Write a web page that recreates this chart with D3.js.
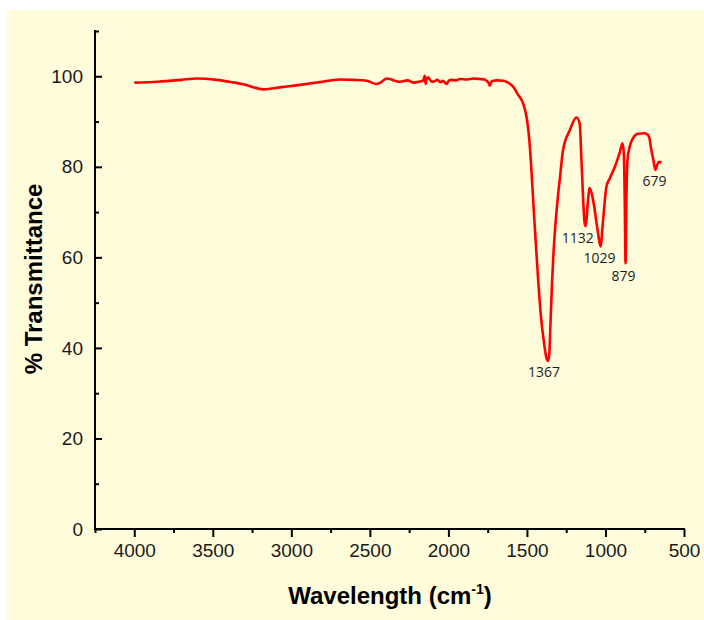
<!DOCTYPE html>
<html>
<head>
<meta charset="utf-8">
<script src="https://cdn.jsdelivr.net/npm/d3@7"></script>
<style>
  html, body { margin: 0; padding: 0; background: #ffffff; }
  svg { display: block; }
</style>
</head>
<body>
<svg id="chart" width="704" height="620"></svg>
<script>
// ---- data ----
const wavenumber = [
  4000, 3850, 3700, 3603, 3476, 3380, 3300, 3179, 3060, 2945, 2820, 2691, 2600, 2520, 2457, 2436,
  2394, 2373, 2340, 2309, 2260, 2224, 2175, 2161, 2150, 2145, 2139, 2129, 2110, 2097, 2070, 2050, 2034, 2022,
  2012, 1995, 1980, 1950, 1927, 1880, 1840, 1800, 1770, 1757, 1745, 1736, 1726, 1715, 1690, 1651, 1620, 1588,
  1556, 1524, 1500, 1485, 1470, 1455, 1435, 1411, 1390, 1376, 1365, 1357, 1350, 1340, 1330, 1318, 1304, 1290,
  1270, 1227, 1185, 1164, 1153, 1132, 1125, 1115, 1100, 1079, 1047, 1032, 1015, 994, 972, 940,
  908, 892, 883, 877, 872, 867, 860, 846, 825, 793, 750, 723, 708, 697, 682, 671, 659, 644
];
const transmittance = [
  98.6, 98.8, 99.2, 99.5, 99.2, 98.7, 98.2, 97.1, 97.6, 98.1, 98.7, 99.3, 99.2, 99.0, 98.3, 98.5,
  99.5, 99.4, 99.0, 98.8, 99.1, 98.6, 98.9, 99.0, 100.1, 98.3, 99.3, 99.8, 98.9, 98.8, 99.2, 98.7, 99.0, 98.6,
  98.3, 99.1, 99.2, 99.1, 99.4, 99.3, 99.5, 99.4, 99.3, 99.0, 98.6, 97.9, 98.8, 99.0, 99.1, 99.0, 98.6, 97.7,
  95.9, 94.0, 90.5, 86.0, 78.5, 69.5, 58.5, 47.0, 40.8, 37.8, 37.1, 39.0, 45.5, 54.5, 61.5, 67.5, 73.0, 77.5,
  83.7, 88.1, 90.9, 89.6, 81.5, 67.5, 66.9, 71.0, 75.3, 72.7, 65.3, 62.4, 68.3, 75.6, 77.5, 80.0,
  83.3, 85.2, 83.0, 71.9, 58.7, 72.0, 81.5, 84.4, 86.3, 87.3, 87.4, 86.7, 83.7, 81.9, 79.3, 80.4, 81.1, 80.9
];
const xTicks = [4000, 3500, 3000, 2500, 2000, 1500, 1000, 500];
const yTicks = [0, 20, 40, 60, 80, 100];
const peakLabels = ["1367", "1132", "1029", "879", "679"];
const peakWavenumber = [1365, 1125, 1032, 872, 682];
const peakValue = [37.1, 66.9, 62.4, 58.7, 79.3];

// ---- layout ----
const svg = d3.select("#chart");
const mLeft = 95, mRight = 684, mTop = 31, mBottom = 529;

svg.append("rect")
  .attr("x", 7).attr("y", 10)
  .attr("width", 704 - 7).attr("height", 620 - 10)
  .attr("fill", "#FFFCDC");

const x = d3.scaleLinear().domain([4250, 500]).range([mLeft, mRight]);
const y = d3.scaleLinear().domain([0, 110]).range([mBottom, mTop]);

const tickFont = "'Liberation Sans', Arial, sans-serif";

// x axis
const xAxis = svg.append("g").attr("transform", `translate(0,${mBottom})`)
  .call(d3.axisBottom(x).tickValues(xTicks).tickSize(8).tickPadding(7).tickFormat(d3.format("d")));
const xMinor = svg.append("g").attr("transform", `translate(0,${mBottom})`)
  .call(d3.axisBottom(x).tickValues(d3.range(4250, 500, -500)).tickSize(4).tickFormat(""));

// y axis (ticks pointing inward)
const yAxis = svg.append("g").attr("transform", `translate(${mLeft},0)`)
  .call(d3.axisRight(y).tickValues(yTicks).tickSize(7).tickFormat(d3.format("d")));
const yMinor = svg.append("g").attr("transform", `translate(${mLeft},0)`)
  .call(d3.axisRight(y).tickValues(d3.range(10, 111, 20)).tickSize(4).tickFormat(""));

[xAxis, xMinor, yAxis, yMinor].forEach(g => {
  g.select(".domain").remove();
  g.selectAll(".tick line").attr("stroke", "#000").attr("stroke-width", 2);
});
xAxis.selectAll(".tick text")
  .attr("font-family", tickFont).attr("font-size", 19).attr("fill", "#1a1a1a");
yAxis.selectAll(".tick text")
  .attr("font-family", tickFont).attr("font-size", 19).attr("fill", "#1a1a1a")
  .attr("text-anchor", "end").attr("x", -12);

// axis lines
svg.append("line").attr("x1", mLeft).attr("x2", mRight).attr("y1", mBottom).attr("y2", mBottom)
  .attr("stroke", "#000").attr("stroke-width", 2).attr("stroke-linecap", "square");
svg.append("line").attr("x1", mLeft).attr("x2", mLeft).attr("y1", mTop).attr("y2", mBottom)
  .attr("stroke", "#000").attr("stroke-width", 2).attr("stroke-linecap", "square");

// spectrum
const pts = wavenumber.map((w, i) => [w, transmittance[i]]);
const line = d3.line().x(d => x(d[0])).y(d => y(d[1])).curve(d3.curveMonotoneX);
svg.append("path").datum(pts)
  .attr("d", line)
  .attr("fill", "none")
  .attr("stroke", "#FF0000")
  .attr("stroke-width", 2.6)
  .attr("stroke-linejoin", "round");

// peak annotations
const offsets = [[-4, 16], [-8, 17], [-1, 17], [-2, 18], [-1, 16]];
peakLabels.forEach((t, i) => {
  svg.append("text")
    .attr("x", x(peakWavenumber[i]) + offsets[i][0])
    .attr("y", y(peakValue[i]) + offsets[i][1])
    .attr("text-anchor", "middle")
    .attr("font-family", "'Open Sans', 'Noto Sans', sans-serif")
    .attr("font-size", 14)
    .attr("fill", "#1c1c28")
    .text(t);
});

// axis titles
const xt = svg.append("text")
  .attr("x", 390).attr("y", 604)
  .attr("text-anchor", "middle")
  .attr("font-family", tickFont).attr("font-weight", "bold").attr("font-size", 24)
  .attr("fill", "#000");
xt.append("tspan").text("Wavelength (cm");
xt.append("tspan").attr("font-size", 14).attr("dy", -10).text("-1");
xt.append("tspan").attr("dy", 10).text(")");

svg.append("text")
  .attr("transform", "translate(42,279) rotate(-90)")
  .attr("text-anchor", "middle")
  .attr("font-family", tickFont).attr("font-weight", "bold").attr("font-size", 24)
  .attr("fill", "#000")
  .text("% Transmittance");
</script>
</body>
</html>
